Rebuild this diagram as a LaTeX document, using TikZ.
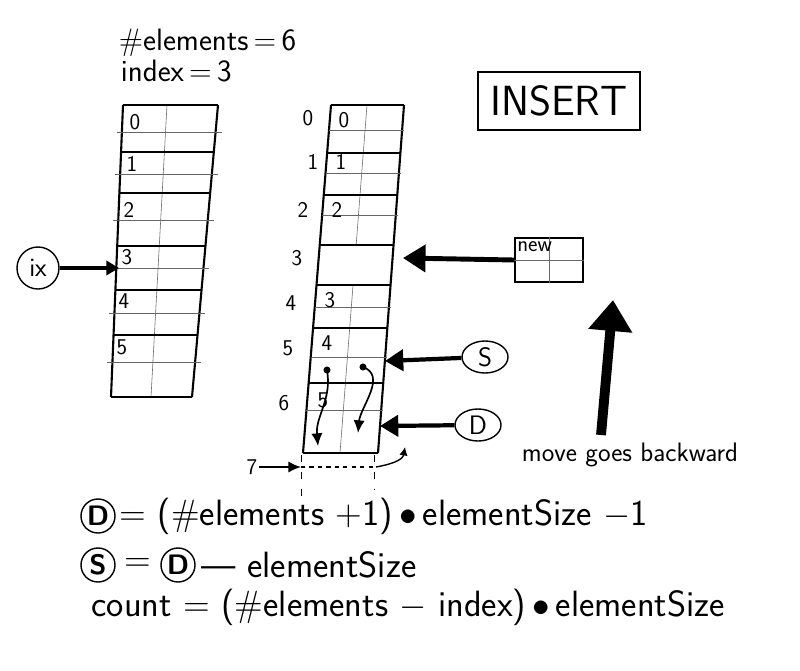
\documentclass[tikz,border=0pt]{standalone}
\usepackage{tikz}
\usetikzlibrary{arrows.meta,shapes.geometric,positioning}

\tikzset{
  hand/.style={font=\sffamily\fontsize{19}{21}\selectfont},
  big/.style={font=\sffamily\fontsize{26}{28}\selectfont, inner sep=1pt},
  cell/.style={font=\sffamily\fontsize{16}{18}\selectfont, inner sep=1pt},
  rowline/.style={line width=1.5pt},
  subline/.style={line width=0.4pt, black!60},
  fatarrow/.style={line width=3.5pt, -{Triangle[length=16pt,width=19pt]}},
  slimarrow/.style={line width=1.2pt, -{Latex[length=9pt,width=8pt]}},
  tag/.style={draw, ellipse, line width=1pt, inner sep=1pt, minimum width=1.15cm, minimum height=0.8cm, hand},
  ring/.style={draw, circle, line width=1pt, inner sep=0.5pt, minimum size=0.85cm, font=\sffamily\bfseries\fontsize{20}{22}\selectfont},
}

\begin{document}
\begin{tikzpicture}[x=0.025cm, y=-0.025cm]

% Frame
\fill[white] (0,0) rectangle (800,670);
\useasboundingbox (0,0) rectangle (800,670);

% Header
\node[font=\sffamily\fontsize{22}{24}\selectfont, anchor=west] (nelem) at (114,43) {\#elements\,=\,6};
\node[font=\sffamily\fontsize{22}{24}\selectfont, anchor=west] (index) at (116,71) {index\,=\,3};

% Left array
\draw[rowline] (123,105) -- (111,397);
\draw[rowline] (218,105) -- (192,397);
\draw[subline] (167,105) -- (151,397);
\foreach \y in {105,152,193,246,290,335,397}
  \draw[rowline] ({123-(\y-105)*0.041},\y) -- ({218-(\y-105)*0.089},\y);
\foreach \y in {132,174,220,268,313,362}
  \draw[subline] ({118-(\y-105)*0.041},\y) -- ({224-(\y-105)*0.089},\y);
\foreach \n/\x/\y in {0/135/122,1/132/164,2/129/210,3/127/257,4/124/301,5/122/347}
  \node[cell] (l\n) at (\x,\y) {\n};

% ix pointer
\node[draw, circle, line width=1pt, minimum size=1.05cm, inner sep=0pt, hand] (ix) at (38,268) {ix};
\coordinate (ixend) at (119,268);
\draw[line width=2.5pt, -{Triangle[length=9pt,width=10pt]}] (ix) -- (ixend);

% Middle array
\draw[rowline] (331,105) -- (303,453);
\draw[rowline] (404,105) -- (378,453);
\draw[subline] (367,105) -- ({367-140*0.0776},245);
\draw[subline] ({367-180*0.0776},285) -- (340,453);
\foreach \y in {105,153,195,245,285,328,383,453}
  \draw[rowline] ({331-(\y-105)*0.0805},\y) -- ({404-(\y-105)*0.0747},\y);
\foreach \y in {130,173,215,307,357,410}
  \draw[subline] ({331-(\y-105)*0.0805},\y) -- ({406-(\y-105)*0.0747},\y);

% Index labels
\foreach \n/\x/\y in {0/308/118,1/313/162,2/303/210,3/297/258,4/291/303,5/288/348,6/284/403}
  \node[cell] (i\n) at (\x,\y) {\n};
% Cell contents
\foreach \n/\x/\y in {0/344/120,1/341/162,2/337/210,3/330/300,4/327/343,5/323/400}
  \node[cell] (c\n) at (\x,\y) {\n};

% Byte moves
\coordinate (sa) at (327,370);
\coordinate (da) at (318,446);
\coordinate (sb) at (363,367);
\coordinate (db) at (358,433);
\fill (sa) circle (2.5pt);
\fill (sb) circle (2.5pt);
\draw[slimarrow] (sa) to[out=-80,in=95] (da);
\draw[slimarrow] (sb) to[out=-20,in=85] (db);

% Slot 7
\node[cell] (seven) at (252,467) {7};
\coordinate (left7) at (301,467);
\coordinate (right7) at (376,467);
\coordinate (back7) at (405,447);
\draw[slimarrow] (seven) -- (left7);
\draw[line width=0.8pt, dashed] (left7) -- (right7);
\draw[line width=0.6pt, dash pattern=on 5pt off 7pt] (301,455) -- (301,497);
\draw[line width=0.6pt, dash pattern=on 5pt off 7pt] (374,455) -- (374,490);
\draw[line width=1pt, -{Latex[length=6pt,width=6pt]}] (right7) to[out=10,in=-100] (back7);

% INSERT title
\node[draw, line width=1.2pt, minimum width=4.05cm, minimum height=1.45cm,
  font=\sffamily\fontsize{30}{32}\selectfont] (title) at (559,101) {INSERT};

% New element
\node[draw, line width=1.2pt, minimum width=1.7cm, minimum height=1.1cm] (new) at (549,260) {};
\draw[subline] (new.north) -- (new.south);
\draw[subline] (new.west) -- (new.east);
\node[font=\sffamily\fontsize{16}{18}\selectfont, inner sep=1pt, anchor=north west] (newtxt)
  at ([xshift=1pt,yshift=-2pt]new.north west) {new};
\coordinate (slot3) at (403,258);
\draw[fatarrow] (new.west) -- (slot3);

% Source and destination
\node[tag] (S) at (485,357) {S};
\coordinate (src) at (385,361);
\draw[line width=3pt, -{Triangle[length=13pt,width=15pt]}] (S) -- (src);
\node[tag] (D) at (478,425) {D};
\coordinate (dst) at (380,426);
\draw[line width=3pt, -{Triangle[length=13pt,width=15pt]}] (D) -- (dst);

% Direction
\coordinate (upfoot) at (601,435);
\coordinate (uptip) at (613,300);
\draw[line width=7pt, -{Triangle[length=22pt,width=30pt]}] (upfoot) -- (uptip);
\node[font=\sffamily\fontsize{19}{21}\selectfont] (back) at (630,455) {move goes backward};

% Formulas
\node[ring] (fD) at (98,516) {D};
\node[big, anchor=west] (f1) at (118,516) {= (\#elements +1)\,$\bullet$\,elementSize $-$1};
\node[ring] (fS) at (98,565) {S};
\node[big] (eq2) at (138,565) {=};
\node[ring] (fD2) at (178,565) {D};
\node[big, anchor=west] (f2) at (200,565) {--- elementSize};
\node[big, anchor=west] (f3) at (90,607) {count = (\#elements $-$ index)\,$\bullet$\,elementSize};

\end{tikzpicture}
\end{document}
